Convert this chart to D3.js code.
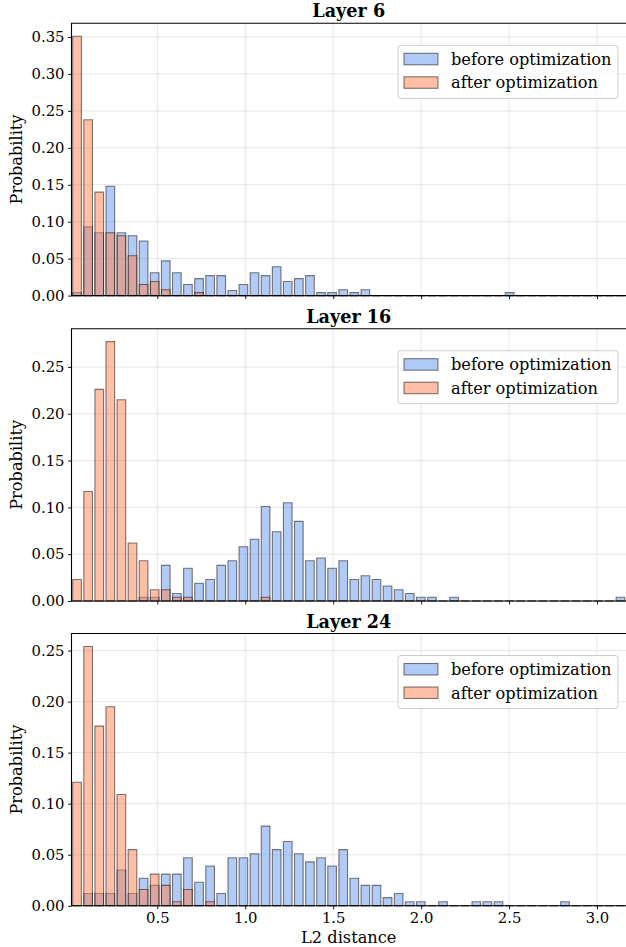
<!DOCTYPE html>
<html>
<head>
<meta charset="utf-8">
<script src="https://cdn.jsdelivr.net/npm/d3@7"></script>
<style>
  html, body { margin: 0; padding: 0; background: #fff; }
  svg { display: block; }
  text { font-family: "DejaVu Serif", serif; fill: #000; }
</style>
</head>
<body>
<svg id="chart" width="626" height="947"></svg>
<script>
// ---- data (probability per bin, 50 equal-width bins) ----
const binRange = [0.012, 3.165];
const binCount = 50;
const layers = ["Layer 6", "Layer 16", "Layer 24"];
const seriesNames = ["before optimization", "after optimization"];

const layer6Before = [0.004,0.093,0.085,0.148,0.085,0.081,0.074,0.031,0.047,0.031,
  0.015,0.023,0.027,0.027,0.007,0.015,0.031,0.027,0.039,0.019,
  0.023,0.027,0.004,0.004,0.008,0.004,0.008,0,0,0,
  0,0,0,0,0,0,0,0,0,0.004,
  0,0,0,0,0,0,0,0,0,0];
const layer6After = [0.351,0.238,0.140,0.085,0.081,0.054,0.015,0.019,0.008,0,
  0,0.004,0,0,0,0,0,0,0,0,
  0,0,0,0,0,0,0,0,0,0,
  0,0,0,0,0,0,0,0,0,0,
  0,0,0,0,0,0,0,0,0,0];
const layer16Before = [0,0,0,0,0,0,0.004,0.004,0.038,0.008,
  0.035,0.019,0.023,0.038,0.043,0.058,0.066,0.101,0.074,0.105,
  0.085,0.043,0.046,0.035,0.043,0.023,0.027,0.023,0.016,0.012,
  0.008,0.004,0.004,0,0.004,0,0,0,0,0,
  0,0,0,0,0,0,0,0,0,0.004];
const layer16After = [0.023,0.117,0.226,0.277,0.215,0.062,0.043,0.012,0.012,0.004,
  0.004,0,0,0,0,0,0,0.004,0,0,
  0,0,0,0,0,0,0,0,0,0,
  0,0,0,0,0,0,0,0,0,0,
  0,0,0,0,0,0,0,0,0,0];
const layer24Before = [0,0.012,0.012,0.012,0.035,0.012,0.027,0.020,0.031,0.031,
  0.047,0.023,0.039,0.012,0.047,0.047,0.051,0.078,0.055,0.063,
  0.051,0.043,0.047,0.039,0.055,0.027,0.020,0.020,0.008,0.012,
  0.004,0.004,0,0.004,0,0,0.004,0.004,0.004,0,
  0,0,0,0,0.004,0,0,0,0,0];
const layer24After = [0.121,0.254,0.176,0.195,0.109,0.055,0.016,0.031,0.020,0.004,
  0.016,0,0.004,0,0,0,0,0,0,0,
  0,0,0,0,0,0,0,0,0,0,
  0,0,0,0,0,0,0,0,0,0,
  0,0,0,0,0,0,0,0,0,0];

const yTicks6 = [0,0.05,0.10,0.15,0.20,0.25,0.30,0.35];
const yTicks16 = [0,0.05,0.10,0.15,0.20,0.25];
const yTicks24 = [0,0.05,0.10,0.15,0.20,0.25];
const xTicks = [0.5,1.0,1.5,2.0,2.5,3.0];

const panelsData = [
  { title: layers[0], before: layer6Before, after: layer6After, yTicks: yTicks6 },
  { title: layers[1], before: layer16Before, after: layer16After, yTicks: yTicks16 },
  { title: layers[2], before: layer24Before, after: layer24After, yTicks: yTicks24 }
];

// ---- layout ----
const left = 71.5, right = 626;
const panelTops = [23.3, 328.7, 633.5];
const panelH = 272.3;
const colors = { before: "#6495ED", after: "#FF7F50" };
const rwidth = 0.78;
const serif = "'DejaVu Serif', serif";

const svg = d3.select("#chart");
const x = d3.scaleLinear().domain(binRange).range([left, right]);
const binW = (binRange[1] - binRange[0]) / binCount;
const edges = d3.range(binCount).map(i => binRange[0] + i * binW);

panelsData.forEach((p, pi) => {
  const top = panelTops[pi], bottom = top + panelH;
  const ymax = d3.max(p.before.concat(p.after)) * 1.05;
  const y = d3.scaleLinear().domain([0, ymax]).range([bottom, top]);
  const g = svg.append("g");

  // grid
  const grid = g.append("g");
  grid.selectAll("line.gx").data(xTicks).join("line")
    .attr("x1", d => x(d)).attr("x2", d => x(d))
    .attr("y1", top).attr("y2", bottom)
    .attr("stroke", "#b0b0b0").attr("stroke-opacity", 0.3).attr("stroke-width", 1);
  grid.selectAll("line.gy").data(p.yTicks).join("line")
    .attr("x1", left).attr("x2", right)
    .attr("y1", d => y(d)).attr("y2", d => y(d))
    .attr("stroke", "#b0b0b0").attr("stroke-opacity", 0.3).attr("stroke-width", 1);

  // bars
  [["before", p.before], ["after", p.after]].forEach(([key, vals]) => {
    g.append("g").selectAll("path").data(vals).join("path")
      .attr("d", (v, i) => {
        const c = edges[i] + binW / 2;
        const x0 = x(c - binW * rwidth / 2), x1 = x(c + binW * rwidth / 2);
        const y0 = y(0), y1 = y(v);
        return `M${x0},${y0}L${x0},${y1}L${x1},${y1}L${x1},${y0}Z`;
      })
      .attr("fill", colors[key]).attr("fill-opacity", 0.5)
      .attr("stroke", "#000").attr("stroke-opacity", 0.5).attr("stroke-width", 1.1);
  });

  // axes
  const yAxis = d3.axisLeft(y).tickValues(p.yTicks).tickFormat(d3.format(".2f")).tickSize(3.5).tickPadding(3.5);
  const ya = g.append("g").attr("transform", `translate(${left},0)`).call(yAxis)
    .attr("font-family", serif).attr("font-size", "14.8px");
  ya.select(".domain").remove();
  ya.selectAll("text").style("font-size", "14.8px").style("font-family", serif);
  ya.selectAll("line").attr("stroke", "#000").attr("stroke-width", 0.9);

  const xAxis = d3.axisBottom(x).tickValues(xTicks).tickSize(3.5).tickPadding(3.5)
    .tickFormat(pi === 2 ? d3.format(".1f") : () => "");
  const xa = g.append("g").attr("transform", `translate(0,${bottom})`).call(xAxis)
    .attr("font-family", serif).attr("font-size", "14.8px");
  xa.select(".domain").remove();
  xa.selectAll("text").style("font-size", "14.8px").style("font-family", serif);
  xa.selectAll("line").attr("stroke", "#000").attr("stroke-width", 0.9);

  // spines (left, top, bottom)
  g.append("path")
    .attr("d", `M${right + 2},${top}L${left},${top}L${left},${bottom}L${right + 2},${bottom}`)
    .attr("fill", "none").attr("stroke", "#000").attr("stroke-width", 1.1);

  // title
  g.append("text").attr("x", (left + right) / 2).attr("y", top - 6)
    .attr("text-anchor", "middle").style("font-size", "17.6px").style("font-weight", "bold")
    .text(p.title);

  // y label
  g.append("text")
    .attr("transform", `translate(22,${(top + bottom) / 2}) rotate(-90)`)
    .attr("text-anchor", "middle").style("font-size", "16.2px")
    .text("Probability");

  // legend
  const lg = g.append("g").attr("transform", `translate(398,${top + 22})`);
  lg.append("rect").attr("x", 0).attr("y", 0).attr("width", 220).attr("height", 53)
    .attr("rx", 3).attr("fill", "#fff").attr("fill-opacity", 0.8)
    .attr("stroke", "#cccccc").attr("stroke-width", 1);
  [["before", seriesNames[0]], ["after", seriesNames[1]]].forEach(([key, name], i) => {
    const ry = 8 + i * 23.5;
    lg.append("rect").attr("x", 6).attr("y", ry).attr("width", 34).attr("height", 11.5)
      .attr("fill", colors[key]).attr("fill-opacity", 0.5)
      .attr("stroke", "#000").attr("stroke-opacity", 0.5).attr("stroke-width", 1.1);
    lg.append("text").attr("x", 53).attr("y", ry + 11.5)
      .style("font-size", "16.2px").text(name);
  });
});

// x label
svg.append("text").attr("x", (left + right) / 2).attr("y", 943)
  .attr("text-anchor", "middle").style("font-size", "16.2px").text("L2 distance");
</script>
</body>
</html>
